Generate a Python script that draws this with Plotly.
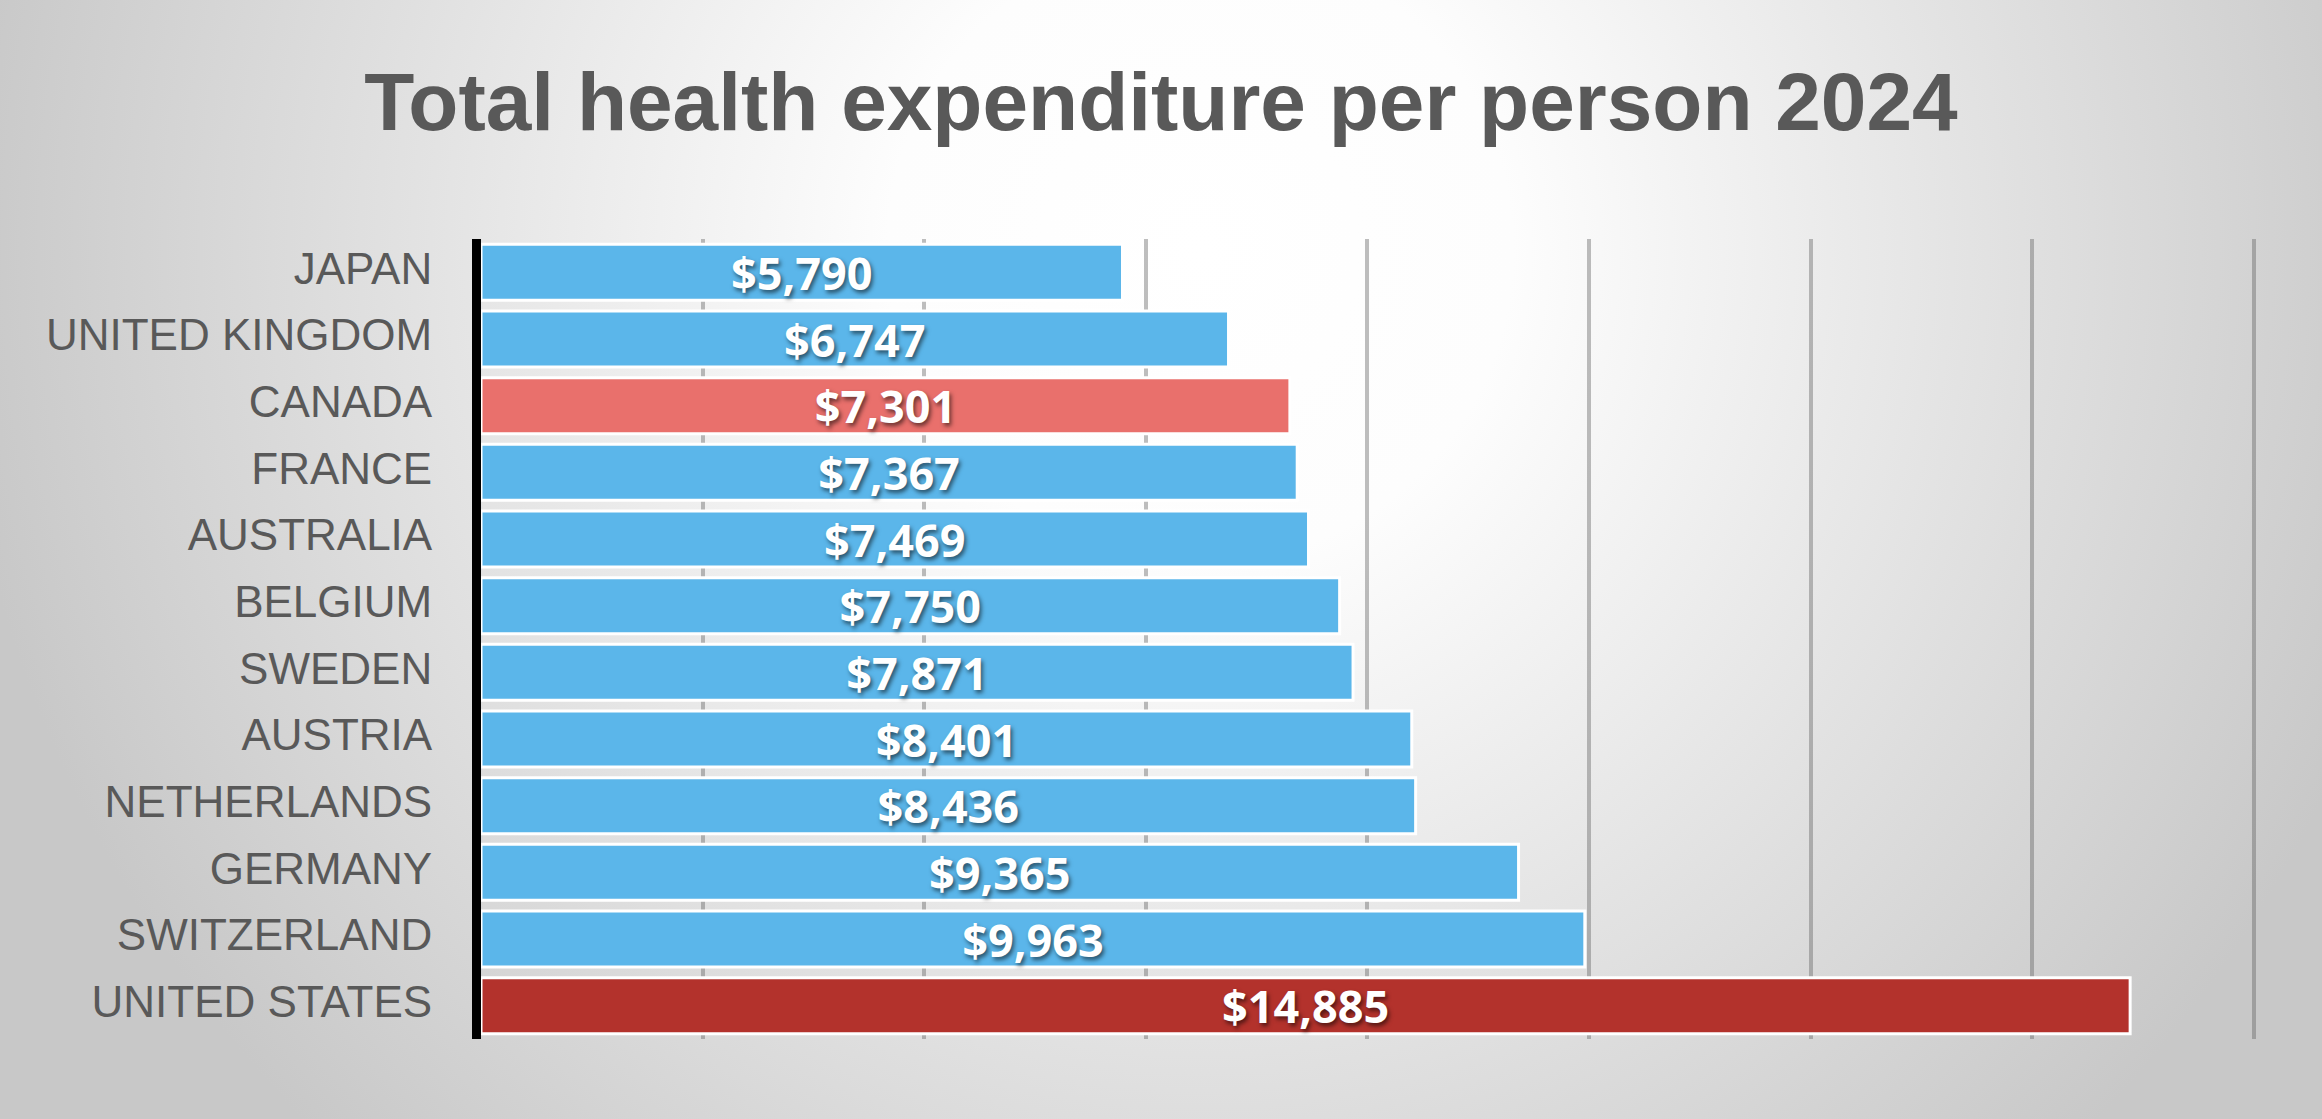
import base64
import plotly.graph_objects as go

# ---- data ----
countries = ["JAPAN", "UNITED KINGDOM", "CANADA", "FRANCE", "AUSTRALIA", "BELGIUM",
             "SWEDEN", "AUSTRIA", "NETHERLANDS", "GERMANY", "SWITZERLAND", "UNITED STATES"]
spend = [5790, 6747, 7301, 7367, 7469, 7750, 7871, 8401, 8436, 9365, 9963, 14885]
bar_colors = ["#5BB6EA", "#5BB6EA", "#E9706C", "#5BB6EA", "#5BB6EA", "#5BB6EA",
              "#5BB6EA", "#5BB6EA", "#5BB6EA", "#5BB6EA", "#5BB6EA", "#B3322C"]
title_text = "Total health expenditure per person 2024"

W, H = 2322, 1119
L, R, T, B = 481, 65, 239, 80
pw, ph = W - L - R, H - T - B

# background radial gradient (decoration)
svg = (
    f'<svg xmlns="http://www.w3.org/2000/svg" width="{W}" height="{H}" '
    f'viewBox="0 0 {W} {H}" preserveAspectRatio="none">'
    '<defs><radialGradient id="g" gradientUnits="userSpaceOnUse" cx="1200" cy="250" r="1250">'
    '<stop offset="0" stop-color="#ffffff"/>'
    '<stop offset="0.25" stop-color="#fdfdfd"/>'
    '<stop offset="0.7" stop-color="#dddddd"/>'
    '<stop offset="1" stop-color="#c8c8c8"/>'
    '</radialGradient></defs>'
    f'<rect x="0" y="0" width="{W}" height="{H}" fill="url(#g)"/></svg>'
)
bg_src = "data:image/svg+xml;base64," + base64.b64encode(svg.encode()).decode()

fig = go.Figure(
    go.Bar(
        x=spend,
        y=countries,
        orientation="h",
        marker=dict(color=bar_colors, line=dict(color="white", width=3)),
        texttemplate="$%{x:,}",
        textposition="inside",
        insidetextanchor="middle",
        constraintext="none",
        textfont=dict(family="Open Sans", size=45, color="white", weight="bold",
                      shadow="2px 3px 4px rgba(0,0,0,0.55)"),
        hoverinfo="skip",
    )
)

fig.update_layout(
    width=W,
    height=H,
    autosize=False,
    margin=dict(l=L, r=R, t=T, b=B, pad=0),
    paper_bgcolor="#d8d8d8",
    plot_bgcolor="rgba(0,0,0,0)",
    bargap=0.16,
    showlegend=False,
    title=dict(
        text=title_text,
        x=0.5, xref="container", xanchor="center",
        y=1 - 101 / H, yref="container", yanchor="middle",
        font=dict(family="Liberation Sans, Arial, sans-serif", size=82,
                  color="#595959", weight="bold"),
    ),
    images=[dict(
        source=bg_src, xref="paper", yref="paper",
        x=-L / pw, y=1 + T / ph, sizex=W / pw, sizey=H / ph,
        xanchor="left", yanchor="top", sizing="stretch", layer="below",
    )],
)

fig.update_xaxes(
    range=[0, 16030], dtick=2000, showticklabels=False, showgrid=True,
    gridcolor="rgba(100,100,100,0.42)", gridwidth=4, zeroline=False,
    showline=False, ticks="", fixedrange=True,
)
fig.update_yaxes(
    autorange="reversed", showline=True, linecolor="black", linewidth=9,
    ticks="", ticklabelstandoff=31, ticklabelshift=4, showgrid=False,
    tickfont=dict(family="Liberation Sans, Arial, sans-serif", size=44, color="#595959"),
    fixedrange=True,
)

fig.write_html(
    "out.html",
    config={"displayModeBar": False},
    post_script="document.body.style.margin='0';document.body.style.overflow='hidden';",
)
